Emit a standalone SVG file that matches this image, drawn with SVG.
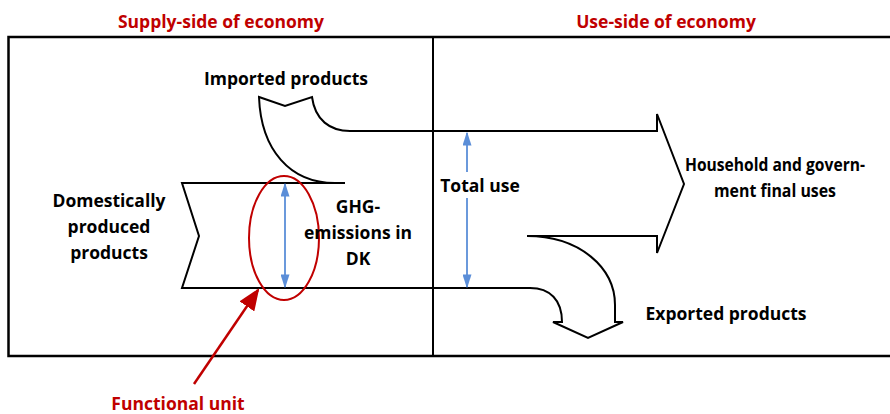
<svg xmlns="http://www.w3.org/2000/svg" width="890" height="414" viewBox="0 0 890 414">
<style>
.t{font-family:"Open Sans",Lato,"Liberation Sans",sans-serif;font-weight:bold;font-size:17.5px;fill:#000;text-anchor:middle}
.r{fill:#C00000}
.flow{fill:none;stroke:#000;stroke-width:2;stroke-linejoin:miter}
.blue{stroke:#5B8ED8;stroke-width:1.8;fill:none}
</style>
<defs>
<marker id="bh" viewBox="0 0 10 10" refX="9" refY="5" markerWidth="14" markerHeight="9" markerUnits="userSpaceOnUse" orient="auto-start-reverse" preserveAspectRatio="none">
<path d="M0,0 L10,5 L0,10 z" fill="#5B8ED8"/>
</marker>
<marker id="rh" viewBox="0 0 10 10" refX="9" refY="5" markerWidth="22" markerHeight="18" markerUnits="userSpaceOnUse" orient="auto" preserveAspectRatio="none">
<path d="M0,0 L10,5 L0,10 z" fill="#C00000"/>
</marker>
</defs>
<rect width="890" height="414" fill="#fff"/>
<g id="frame">
<path d="M896,37 L8.5,37 L8.5,356 L896,356" fill="none" stroke="#000" stroke-width="2.5"/>
<line x1="433" y1="37" x2="433" y2="356" stroke="#000" stroke-width="2"/>
</g>
<g id="titles">
<text class="t r" x="221" y="28">Supply-side of economy</text>
<text class="t r" x="666" y="28">Use-side of economy</text>
</g>
<g id="connectors">
<path id="imported-flow" class="flow" d="M335,183 C290,183 261,150 259,97 L285,106 L312,97 C315,120 330,131 350,131 L657,131 L657,114 L684,184 L657,253 L657,236 L527,236 C580,236 615,268 615,305 L615,322 L623,322 L588,338 L553,322 L562,322 C562,300 550,288 530,288 L182,288 L199,236 L182,183 L345,183"/>
<line class="blue" x1="285" y1="184" x2="285" y2="287" marker-start="url(#bh)" marker-end="url(#bh)"/>
<line class="blue" x1="467" y1="133" x2="467" y2="287" marker-start="url(#bh)" marker-end="url(#bh)"/>
<line x1="194" y1="384" x2="258" y2="290" stroke="#C00000" stroke-width="2.5" marker-end="url(#rh)"/>
</g>
<g id="functional-unit-ellipse">
<ellipse cx="284" cy="238" rx="35" ry="62" fill="none" stroke="#C00000" stroke-width="2"/>
</g>
<g id="imported">
<text class="t" x="286" y="85">Imported products</text>
</g>
<g id="domestic">
<text class="t" x="109" y="207">Domestically</text>
<text class="t" x="109" y="233">produced</text>
<text class="t" x="109" y="259">products</text>
</g>
<g id="ghg">
<text class="t" x="358" y="213">GHG-</text>
<text class="t" x="358" y="239">emissions in</text>
<text class="t" x="358" y="265">DK</text>
</g>
<g id="total-use">
<rect x="439" y="172" width="84" height="26" fill="#fff"/>
<text class="t" x="480" y="192">Total use</text>
</g>
<g id="final-uses">
<text class="t" x="775" y="171" textLength="180" lengthAdjust="spacingAndGlyphs">Household and govern-</text>
<text class="t" x="775" y="197" textLength="122" lengthAdjust="spacingAndGlyphs">ment final uses</text>
</g>
<g id="exported">
<text class="t" x="726" y="320">Exported products</text>
</g>
<g id="functional-unit">
<text class="t r" x="178" y="410">Functional unit</text>
</g>
</svg>
